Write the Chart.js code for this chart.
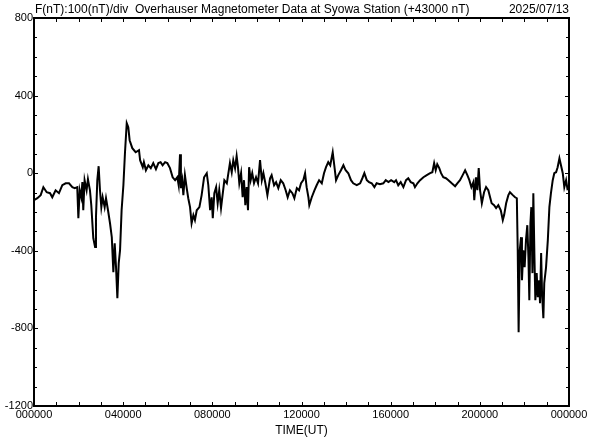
<!DOCTYPE html>
<html>
<head>
<meta charset="utf-8">
<script src="https://cdn.jsdelivr.net/npm/chart.js@4.4.1/dist/chart.umd.min.js"></script>
<style>
  html, body { margin: 0; padding: 0; background: #fff; }
</style>
</head>
<body>
<canvas id="myChart" width="592" height="440"></canvas>
<script>
// time of day in hours (UT) and F deviation from 43000 nT
const timeHours = [
  0.00, 0.15, 0.30, 0.42, 0.57, 0.72, 0.82, 0.97, 1.12, 1.27, 1.42, 1.57, 1.72, 1.83, 1.94, 1.99,
  2.05, 2.12, 2.17, 2.21, 2.27, 2.36, 2.42, 2.51, 2.57, 2.66, 2.74, 2.78, 2.84, 2.90, 2.96, 3.02,
  3.08, 3.17, 3.23, 3.32, 3.41, 3.49, 3.56, 3.62, 3.68, 3.74, 3.80, 3.86, 3.93, 4.01, 4.08, 4.16,
  4.23, 4.29, 4.41, 4.56, 4.71, 4.76, 4.88, 4.93, 5.02, 5.13, 5.24, 5.35, 5.47, 5.58, 5.68, 5.77,
  5.88, 5.98, 6.10, 6.22, 6.33, 6.43, 6.49, 6.55, 6.59, 6.65, 6.70, 6.77, 6.85, 6.92, 7.00, 7.07,
  7.15, 7.22, 7.30, 7.42, 7.52, 7.63, 7.75, 7.82, 7.90, 7.97, 8.02, 8.09, 8.17, 8.24, 8.31, 8.39,
  8.47, 8.54, 8.65, 8.72, 8.79, 8.87, 8.94, 9.02, 9.09, 9.15, 9.21, 9.29, 9.36, 9.42, 9.48, 9.54,
  9.60, 9.65, 9.72, 9.79, 9.87, 9.96, 10.05, 10.14, 10.22, 10.29, 10.38, 10.47, 10.59, 10.66, 10.77, 10.86,
  10.96, 11.07, 11.18, 11.29, 11.38, 11.48, 11.59, 11.68, 11.79, 11.89, 11.98, 12.08, 12.16, 12.23, 12.31, 12.35,
  12.46, 12.58, 12.68, 12.79, 12.91, 13.01, 13.10, 13.20, 13.29, 13.40, 13.47, 13.55, 13.65, 13.77, 13.88, 13.98,
  14.10, 14.22, 14.32, 14.48, 14.63, 14.73, 14.82, 14.93, 15.03, 15.15, 15.27, 15.37, 15.52, 15.67, 15.78, 15.90,
  16.02, 16.16, 16.24, 16.34, 16.45, 16.57, 16.69, 16.79, 16.90, 17.02, 17.09, 17.20, 17.32, 17.47, 17.62, 17.77,
  17.87, 17.95, 18.02, 18.09, 18.18, 18.26, 18.36, 18.48, 18.59, 18.74, 18.89, 18.99, 19.11, 19.23, 19.34, 19.44,
  19.53, 19.62, 19.71, 19.75, 19.83, 19.89, 19.95, 20.01, 20.09, 20.19, 20.28, 20.38, 20.46, 20.53, 20.64, 20.73,
  20.83, 20.94, 21.03, 21.09, 21.18, 21.28, 21.35, 21.48, 21.58, 21.66, 21.70, 21.74, 21.79, 21.85, 21.89, 21.95,
  22.01, 22.07, 22.13, 22.18, 22.22, 22.27, 22.31, 22.36, 22.40, 22.45, 22.49, 22.55, 22.60, 22.66, 22.70, 22.75,
  22.79, 22.85, 22.89, 22.97, 23.05, 23.12, 23.19, 23.27, 23.34, 23.42, 23.49, 23.57, 23.64, 23.72, 23.79, 23.87,
  23.94
];
const fieldNT = [
  -139, -129, -113, -72, -98, -103, -124, -88, -103, -62, -52, -52, -72, -77, -72, -232,
  -88, -124, -46, -191, -36, -88, -31, -88, -165, -335, -381, -227, -36, 36, -88, -175,
  -124, -175, -129, -191, -258, -330, -510, -361, -485, -644, -464, -397, -191, -62, 103, 258,
  237, 170, 129, 108, 119, 67, 31, 57, 15, 41, 26, 52, 21, 52, 57, 41,
  57, 52, 26, -21, -36, -21, -62, 98, -77, -36, -113, -10, -77, -129, -175, -258,
  -216, -242, -191, -175, -113, -21, 0, -62, -191, -124, -232, -103, -72, -155, -88, -180,
  -103, -36, -52, 0, 52, 5, 67, 26, 88, 31, -52, 0, -124, -36, -165, -72,
  -191, 31, -36, 0, -52, -21, -52, 67, -36, 0, -52, -113, -26, -10, -62, -46,
  -77, -36, -52, -88, -124, -88, -103, -129, -77, -88, -52, -36, 0, -72, -124, -165,
  -124, -88, -62, -36, -52, 0, 31, 57, 41, 108, 41, -36, -10, 15, 41, 15,
  0, -36, -52, -62, -52, -26, 0, -36, -46, -52, -72, -52, -57, -52, -36, -46,
  -36, -46, -36, -62, -46, -72, -36, -26, -46, -52, -72, -52, -36, -21, -10, 0,
  5, 52, 15, 46, 26, 0, -21, -26, -36, -52, -67, -52, -36, -10, 15, -10,
  -36, -72, -46, -139, -21, -88, 26, -88, -155, -98, -72, -88, -124, -155, -165, -180,
  -165, -191, -242, -216, -155, -113, -98, -113, -124, -129, -397, -820, -397, -330, -552, -397,
  -485, -345, -268, -433, -655, -258, -175, -515, -103, -433, -655, -515, -639, -552, -670, -412,
  -618, -747, -567, -485, -345, -175, -103, -36, 0, 5, 31, 77, 41, 0, -72, -36,
  -88
];

const titleLeft = 'F(nT):100(nT)/div  Overhauser Magnetometer Data at Syowa Station (+43000 nT)';
const titleRight = '2025/07/13';
const xLabelEvery = 4;    // hours between time labels
const yLabelEvery = 400;  // nT between value labels

const fontName = '"Liberation Sans", Arial, sans-serif';

// border box and inward tick marks, plus the header line
const frameAndTicks = {
  id: 'frameAndTicks',
  afterDatasetsDraw(chart) {
    const { ctx, chartArea: a, scales } = chart;
    ctx.save();
    ctx.strokeStyle = '#000';
    ctx.lineWidth = 1;
    ctx.beginPath();
    scales.x.ticks.forEach(t => {
      const px = Math.round(scales.x.getPixelForValue(t.value)) + 0.5;
      const len = 4;
      ctx.moveTo(px, a.bottom); ctx.lineTo(px, a.bottom - len);
      ctx.moveTo(px, a.top); ctx.lineTo(px, a.top + len);
    });
    scales.y.ticks.forEach(t => {
      const py = Math.round(scales.y.getPixelForValue(t.value)) + 0.5;
      const len = t.value % yLabelEvery === 0 ? 4 : 3;
      ctx.moveTo(a.left, py); ctx.lineTo(a.left + len, py);
      ctx.moveTo(a.right, py); ctx.lineTo(a.right - len, py);
    });
    ctx.stroke();
    ctx.lineWidth = 2;
    ctx.strokeRect(a.left, a.top, a.right - a.left, a.bottom - a.top);

    ctx.fillStyle = '#000';
    ctx.font = '12px ' + fontName;
    ctx.textBaseline = 'alphabetic';
    ctx.textAlign = 'left';
    ctx.fillText(titleLeft, a.left + 1, 13);
    ctx.textAlign = 'right';
    ctx.fillText(titleRight, a.right, 13);
    ctx.restore();
  }
};

const ctx = document.getElementById('myChart').getContext('2d');
const chart = new Chart(ctx, {
  type: 'line',
  data: {
    datasets: [{
      data: timeHours.map((h, i) => ({ x: h, y: fieldNT[i] })),
      borderColor: '#000',
      borderWidth: 2,
      pointRadius: 0,
      tension: 0,
      fill: false
    }]
  },
  options: {
    responsive: false,
    animation: false,
    layout: { padding: { top: 18, right: 23, left: 0, bottom: 0 } },
    plugins: {
      legend: { display: false },
      tooltip: { enabled: false },
      title: { display: false }
    },
    scales: {
      x: {
        type: 'linear',
        min: 0,
        max: 24,
        grid: { display: false, drawTicks: false },
        border: { display: false },
        ticks: {
          stepSize: 1,
          autoSkip: false,
          maxRotation: 0,
          padding: 2,
          color: '#000',
          font: { family: fontName, size: 11 },
          callback: v => v % xLabelEvery === 0 ? String((v % 24) * 10000).padStart(6, '0') : ''
        },
        title: {
          display: true,
          text: 'TIME(UT)',
          color: '#000',
          font: { family: fontName, size: 12 },
          padding: { top: 0, bottom: 2 }
        },
        afterFit: s => { s.height = 34; }
      },
      y: {
        min: -1200,
        max: 800,
        grid: { display: false, drawTicks: false },
        border: { display: false },
        ticks: {
          stepSize: 100,
          autoSkip: false,
          padding: 1,
          color: '#000',
          font: { family: fontName, size: 11 },
          callback: v => v % yLabelEvery === 0 ? String(v) : ''
        },
        afterFit: s => { s.width = 34; }
      }
    }
  },
  plugins: [frameAndTicks]
});
</script>
</body>
</html>
